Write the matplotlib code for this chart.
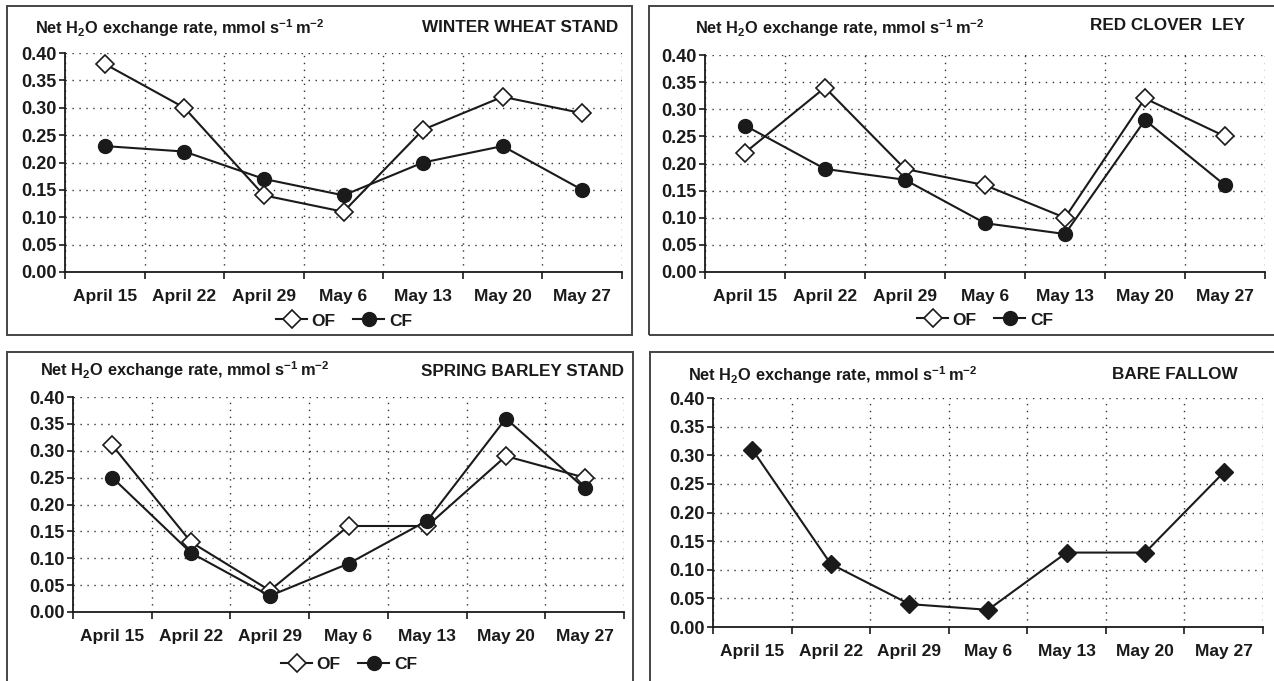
import matplotlib
matplotlib.use("Agg")
from matplotlib import pyplot as plt
from matplotlib.patches import Rectangle
from matplotlib.ticker import FixedLocator, FormatStrFormatter

plt.rcParams['font.family'] = ['Liberation Sans Narrow', 'Liberation Sans', 'DejaVu Sans']
plt.rcParams['font.weight'] = 'bold'
plt.rcParams['mathtext.fontset'] = 'custom'
plt.rcParams['mathtext.rm'] = 'Liberation Sans:bold'
plt.rcParams['mathtext.default'] = 'rm'

W, H = 1274, 681

dates = ["April 15", "April 22", "April 29", "May 6", "May 13", "May 20", "May 27"]
y_ticks = [0.00, 0.05, 0.10, 0.15, 0.20, 0.25, 0.30, 0.35, 0.40]

wheat_of = [0.38, 0.30, 0.14, 0.11, 0.26, 0.32, 0.29]
wheat_cf = [0.23, 0.22, 0.17, 0.14, 0.20, 0.23, 0.15]
clover_of = [0.22, 0.34, 0.19, 0.16, 0.10, 0.32, 0.25]
clover_cf = [0.27, 0.19, 0.17, 0.09, 0.07, 0.28, 0.16]
barley_of = [0.31, 0.13, 0.04, 0.16, 0.16, 0.29, 0.25]
barley_cf = [0.25, 0.11, 0.03, 0.09, 0.17, 0.36, 0.23]
fallow = [0.31, 0.11, 0.04, 0.03, 0.13, 0.13, 0.27]

ylabel = r"Net H$_2$O exchange rate, mmol s$^{-1}\,$m$^{-2}$"
ink = "#1a1a1a"

fig = plt.figure(figsize=(W / 100, H / 100), dpi=100)
fig.patch.set_facecolor("white")


def px_rect(left, right, top, bottom):
    return [left / W, 1 - bottom / H, (right - left) / W, (bottom - top) / H]


def frame(left, right, top, bottom):
    fig.patches.append(Rectangle((left / W, 1 - bottom / H), (right - left) / W, (bottom - top) / H,
                                 transform=fig.transFigure, fill=False, edgecolor="#444444",
                                 linewidth=1.4))


def panel(box, title, title_pos, label_pos, series, legend_pos=None):
    ax = fig.add_axes(px_rect(*box))
    x = [i + 0.5 for i in range(len(dates))]
    for vals, style in series:
        ax.plot(x, vals, color=ink, linewidth=1.5, zorder=3, **style)
    ax.set_xlim(0, len(dates))
    ax.set_ylim(0, 0.40)
    ax.xaxis.set_major_locator(FixedLocator(range(len(dates) + 1)))
    ax.xaxis.set_minor_locator(FixedLocator(x))
    ax.set_xticklabels([], minor=False)
    ax.set_xticklabels(dates, minor=True)
    ax.tick_params(axis='x', which='major', length=5, width=1.2, direction='out', color=ink)
    ax.tick_params(axis='x', which='minor', length=0, pad=12, labelsize=12.5, labelcolor=ink)
    ax.set_yticks(y_ticks)
    ax.yaxis.set_major_formatter(FormatStrFormatter("%.2f"))
    ax.tick_params(axis='y', length=4, width=1.2, pad=2, labelsize=13, labelcolor=ink, color=ink)
    for s in ["top", "right"]:
        ax.spines[s].set_visible(False)
    for s in ["left", "bottom"]:
        ax.spines[s].set_linewidth(1.3)
        ax.spines[s].set_color(ink)
    ax.grid(True, which='major', linestyle=(0, (1, 4)), color="#333333", linewidth=1.0)
    ax.set_axisbelow(True)

    fig.text(label_pos[0] / W, 1 - label_pos[1] / H, ylabel, fontsize=11.8, color=ink,
             ha='left', va='center')
    fig.text(title_pos[0] / W, 1 - title_pos[1] / H, title, fontsize=12.3, color=ink,
             ha='right', va='center')
    if legend_pos is not None:
        ax.legend(loc='center', bbox_to_anchor=(legend_pos[0] / W, 1 - legend_pos[1] / H),
                  bbox_transform=fig.transFigure, ncol=2, frameon=False, fontsize=12.5,
                  handlelength=1.8, handletextpad=0.25, columnspacing=1.0,
                  labelcolor=ink)
    return ax


of_style = dict(marker='D', markersize=9, markerfacecolor='white', markeredgecolor=ink,
                markeredgewidth=1.2, label="OF")
cf_style = dict(marker='o', markersize=10, markerfacecolor=ink, markeredgecolor=ink, label="CF")
bf_style = dict(marker='D', markersize=9, markerfacecolor=ink, markeredgecolor=ink)

frame(7, 632, 6, 335)
frame(649, 1280, 6, 335)
frame(7, 633, 352, 690)
frame(650, 1280, 352, 690)

panel((65, 622, 53, 272), "WINTER WHEAT STAND", (618, 27), (35, 28),
      [(wheat_of, of_style), (wheat_cf, cf_style)], legend_pos=(344, 321))
panel((705, 1265, 55, 272), "RED CLOVER  LEY", (1245, 25), (695, 28),
      [(clover_of, of_style), (clover_cf, cf_style)], legend_pos=(985, 320))
panel((73, 624, 397, 612), "SPRING BARLEY STAND", (624, 372), (40, 370),
      [(barley_of, of_style), (barley_cf, cf_style)], legend_pos=(349, 664))
panel((713, 1263, 398, 627), "BARE FALLOW", (1238, 375), (688, 375),
      [(fallow, bf_style)])

fig.savefig("out.png", dpi=100, facecolor="white")
